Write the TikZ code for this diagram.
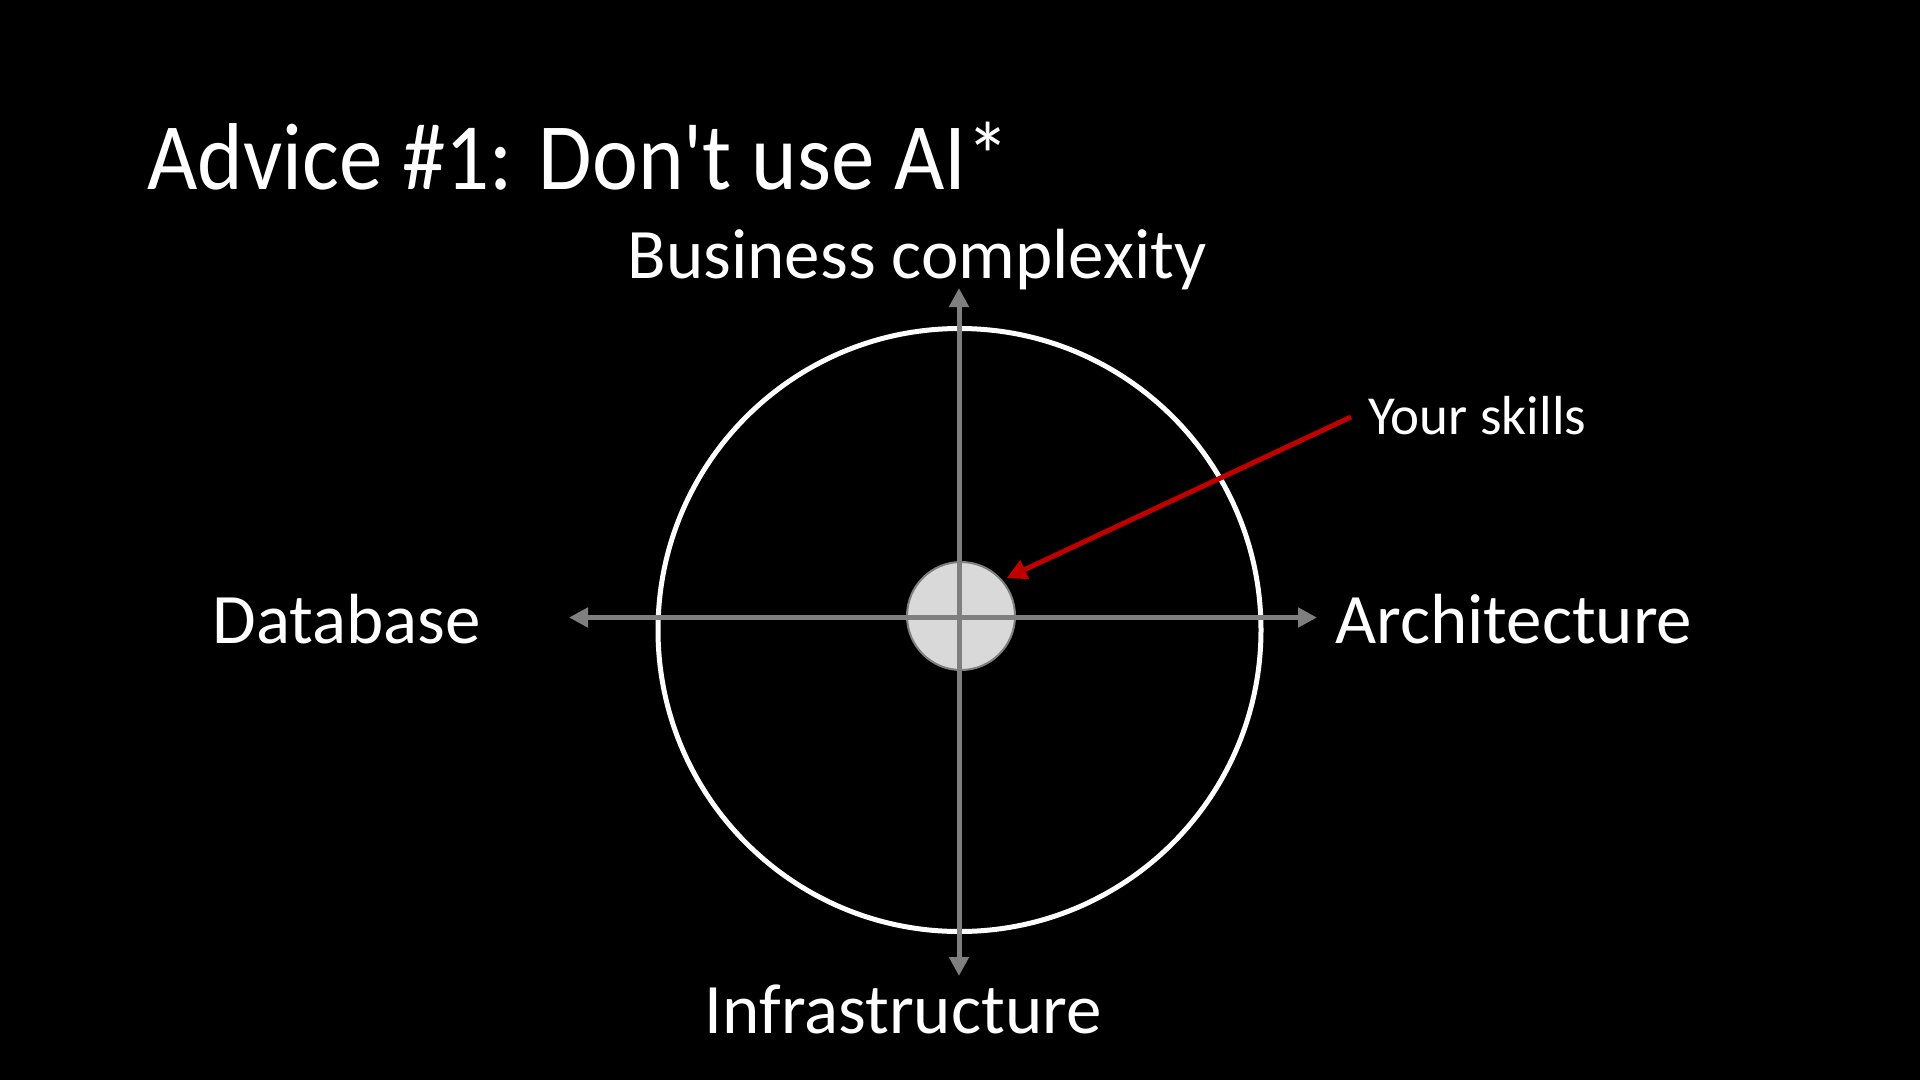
\documentclass[tikz,border=0pt]{standalone}
\usepackage{fontspec}
\setmainfont{Carlito}[Ligatures=TeXOff]
\usetikzlibrary{arrows.meta}
\definecolor{axisgray}{HTML}{7F7F7F}
\definecolor{dotfill}{HTML}{D9D9D9}
\definecolor{skillred}{HTML}{C00000}
\tikzset{
  axisline/.style={draw=axisgray, line width=5pt, {Triangle[length=19pt,width=19pt]}-{Triangle[length=19pt,width=19pt]}},
  axislabel/.style={text=white, font=\fontsize{71}{85}\selectfont, inner sep=0pt},
  titletext/.style={text=white, font=\fontsize{95}{114}\selectfont, inner sep=0pt, anchor=base west, xscale=0.915, transform shape},
  ringstyle/.style={circle, draw=white, line width=5pt, minimum size=603pt, inner sep=0pt},
  dotstyle/.style={circle, draw=axisgray, fill=dotfill, line width=2pt, minimum size=108pt, inner sep=0pt},
  pointer/.style={draw=skillred, line width=5pt, -{Triangle[length=20pt,width=20pt]}},
  notetext/.style={text=white, font=\fontsize{55}{66}\selectfont, inner sep=0pt, anchor=base west}
}
\begin{document}
\begin{tikzpicture}[x=1pt,y=-1pt]
\fill[black] (0,0) rectangle (1920,1080);
\useasboundingbox (0,0) rectangle (1920,1080);
\node[titletext] (title) at (147,189) {Advice \#1: Don't use AI*};
\node[ringstyle] (ring) at (959.5,630) {};
\node[dotstyle] (skills) at (961,616) {};
\coordinate (left) at (569,617.5);
\coordinate (right) at (1317,617.5);
\coordinate (top) at (959,288);
\coordinate (bottom) at (959,976);
\draw[axisline] (left) -- (right);
\draw[axisline] (bottom) -- (top);
\node[axislabel, anchor=base] (business) at (917,278) {Business complexity};
\node[axislabel, anchor=base] (infra) at (903,1033) {Infrastructure};
\node[axislabel, anchor=base east] (db) at (481,643) {Database};
\node[axislabel, anchor=base west] (arch) at (1335,643) {Architecture};
\node[notetext] (note) at (1368,434) {Your skills};
\coordinate (pstart) at (1351,417);
\coordinate (ptip) at (1006.7,578);
\draw[pointer] (pstart) -- (ptip);
\end{tikzpicture}
\end{document}
